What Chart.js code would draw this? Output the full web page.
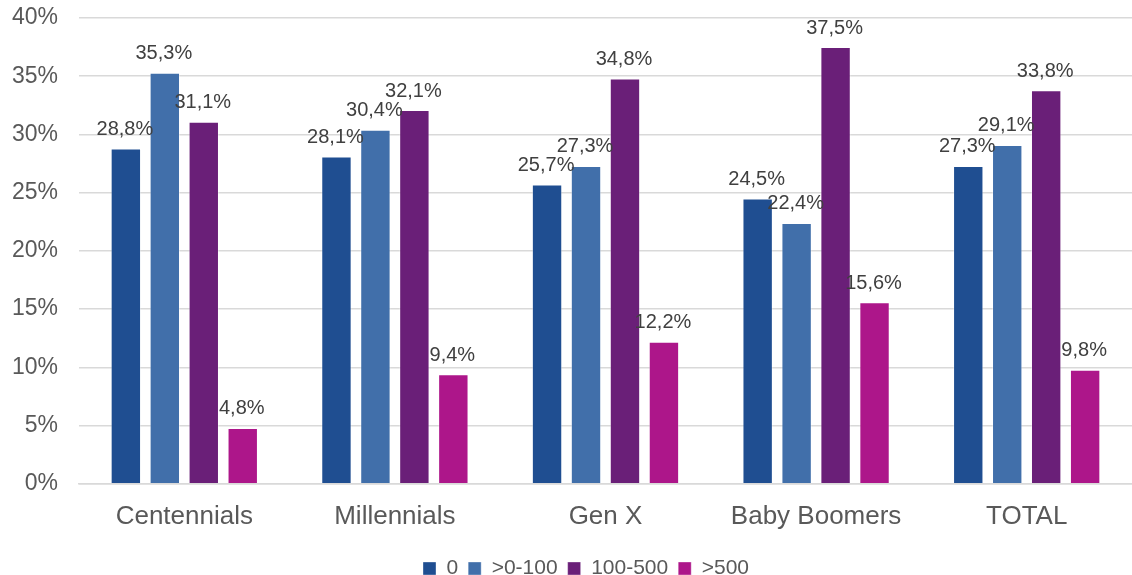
<!DOCTYPE html>
<html lang="es">
<head>
<meta charset="UTF-8">
<title>Chart</title>
<script src="https://cdn.jsdelivr.net/npm/chart.js@4.4.1/dist/chart.umd.min.js"></script>
<style>
  body { margin: 0; background: #ffffff; }
  #wrap { width: 1132px; height: 575px; }
</style>
</head>
<body>
<div id="wrap"><canvas id="chart" width="1132" height="575"></canvas></div>
<script>
// Datos
const categories = ['Centennials', 'Millennials', 'Gen X', 'Baby Boomers', 'TOTAL'];
const seriesNames = ['0', '>0-100', '100-500', '>500'];
const serie0 = [28.8, 28.1, 25.7, 24.5, 27.3];
const serie0a100 = [35.3, 30.4, 27.3, 22.4, 29.1];
const serie100a500 = [31.1, 32.1, 34.8, 37.5, 33.8];
const serieMas500 = [4.8, 9.4, 12.2, 15.6, 9.8];
const yTicks = [0, 5, 10, 15, 20, 25, 30, 35, 40];

const colors = ['#1f4e91', '#416faa', '#6a1f78', '#ad168a'];
const allSeries = [serie0, serie0a100, serie100a500, serieMas500];

const FONT = '"Liberation Sans", Arial, sans-serif';
const fmt = v => v.toFixed(1).replace('.', ',') + '%';

// etiquetas encima de las barras
const labelsPlugin = {
  id: 'barLabels',
  afterDatasetsDraw(chart) {
    const ctx = chart.ctx;
    ctx.save();
    ctx.font = '20px ' + FONT;
    ctx.fillStyle = '#404040';
    ctx.textAlign = 'center';
    ctx.textBaseline = 'bottom';
    chart.data.datasets.forEach((ds, i) => {
      chart.getDatasetMeta(i).data.forEach((bar, j) => {
        ctx.fillText(fmt(ds.data[j]), bar.x - 1, bar.y - 9);
      });
    });
    ctx.restore();
  }
};

// la leyenda del original está algo desplazada a la derecha
const legendShift = {
  id: 'legendShift',
  afterLayout(chart) {
    chart.legend.left += 20;
    chart.legend.right += 20;
  }
};

new Chart(document.getElementById('chart'), {
  type: 'bar',
  data: {
    labels: categories,
    datasets: allSeries.map((d, i) => ({
      label: seriesNames[i],
      data: d,
      backgroundColor: colors[i],
      borderColor: 'rgba(255,255,255,0.35)',
      borderWidth: 1,
      categoryPercentage: 0.74,
      barPercentage: 0.78
    }))
  },
  options: {
    responsive: false,
    animation: false,
    layout: { padding: { left: 0, right: 0, top: 0, bottom: -14 } },
    plugins: {
      legend: {
        position: 'bottom',
        labels: {
          boxWidth: 13,
          boxHeight: 13,
          padding: 10,
          color: '#595959',
          font: { size: 21, family: FONT }
        }
      },
      tooltip: { enabled: false }
    },
    scales: {
      x: {
        grid: { display: false },
        border: { color: '#d9d9d9', width: 1.5 },
        afterFit: axis => { axis.height += 7; },
        ticks: {
          color: '#595959',
          padding: 9,
          font: { size: 26, family: FONT }
        }
      },
      y: {
        min: 0,
        max: 40,
        afterBuildTicks: axis => { axis.ticks = yTicks.map(v => ({ value: v })); },
        afterFit: axis => {
          axis.width = 79;
          axis.paddingTop = 18;
          axis.paddingBottom = 0;
        },
        grid: { color: '#d9d9d9', lineWidth: 1.5, drawTicks: false },
        border: { display: false },
        ticks: {
          color: '#595959',
          padding: 21,
          callback: v => v + '%',
          font: { size: 23, family: FONT }
        }
      }
    }
  },
  plugins: [labelsPlugin, legendShift]
});
</script>
</body>
</html>
